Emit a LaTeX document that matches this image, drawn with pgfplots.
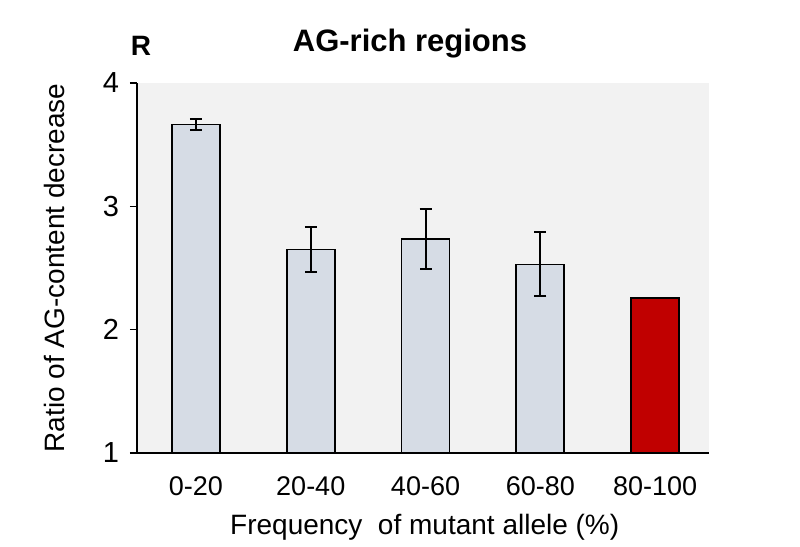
\documentclass[border=0pt]{standalone}
\usepackage{pgfplots}
\pgfplotsset{compat=1.18}
\usepackage{fontspec}
\setmainfont{Liberation Sans}
\definecolor{barblue}{HTML}{D6DCE5}
\definecolor{barred}{HTML}{C00000}
\definecolor{bggray}{HTML}{F2F2F2}
\begin{document}
\begin{tikzpicture}
\path (0,0) rectangle (400pt,272pt);
\begin{axis}[
  at={(68.5pt,45.5pt)}, anchor=south west,
  width=286pt, height=185pt, scale only axis,
  axis lines=left, axis line style={-, line width=0.8pt},
  axis background/.style={fill=bggray},
  xmin=-0.514, xmax=4.47, ymin=1, ymax=4,
  ytick={1,2,3,4}, xtick={0,1,2,3,4},
  xticklabels={0-20,20-40,40-60,60-80,80-100},
  x tick style={draw=none}, major tick length=3.5pt,
  y tick style={line width=0.8pt, black},
  tick align=outside,
  yticklabel style={font=\fontsize{14.5}{16}\selectfont, xshift=-2pt},
  xticklabel style={font=\fontsize{13.5}{16}\selectfont, yshift=-5pt},
  /pgf/number format/assume math mode=true,
  xlabel={Frequency\ \ of mutant allele (\%)},
  ylabel={Ratio of AG-content\ decrease},
  xlabel style={font=\fontsize{14}{16}\selectfont, at={(axis description cs:0.503,-0.2)}, anchor=center},
  ylabel style={font=\fontsize{14}{16}\selectfont, at={(axis description cs:-0.145,0.5)}, anchor=center},
  ybar, bar width=24pt, bar shift=0pt,
]
\addplot[fill=barblue, draw=black, line width=0.8pt,
  error bars/.cd, y dir=both, y explicit,
  error bar style={line width=1pt, black, solid},
  error mark options={rotate=90, mark size=3pt, line width=1pt, black}]
  coordinates {(0,3.665) +- (0,0.045) (1,2.65) +- (0,0.18) (2,2.735) +- (0,0.24) (3,2.53) +- (0,0.26)};
\addplot[fill=barred, draw=black, line width=0.8pt] coordinates {(4,2.255)};
\end{axis}
\node[font=\bfseries\fontsize{15.5}{18}\selectfont] at (205pt,250pt) {AG-rich regions};
\node[font=\bfseries\fontsize{14}{16}\selectfont] at (70.5pt,249pt) {R};
\end{tikzpicture}
\end{document}
